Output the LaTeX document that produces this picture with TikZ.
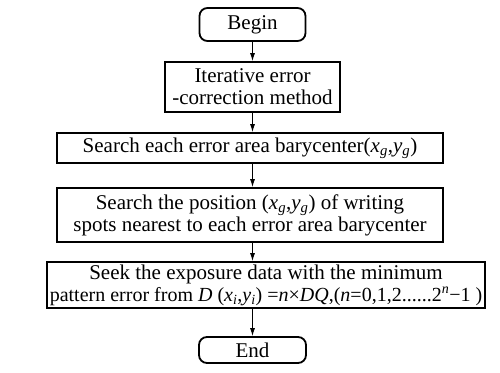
\documentclass[tikz,border=0pt]{standalone}
\usepackage{fontspec}
\setmainfont{Liberation Serif}
\usetikzlibrary{arrows.meta}
\newcommand{\iv}[1]{\textit{#1}}
\newcommand{\sub}[2]{\textit{#1}\textsubscript{\textit{#2}}}
\begin{document}
\begin{tikzpicture}[x=1pt,y=-1pt,
  box/.style={draw,line width=1.8pt,align=center,font=\fontsize{21}{22}\selectfont,inner sep=0pt},
  term/.style={box,rounded corners=8pt},
  arr/.style={-{Latex[length=8pt,width=5pt]},line width=0.9pt}]
\useasboundingbox (0,0) rectangle (500,372);
\node[term,minimum width=106pt,minimum height=33pt] (b) at (252.5,24.5) {Begin};
\node[box,minimum width=175pt,minimum height=50pt] (i) at (252.5,87) {Iterative error\\-correction method};
\node[box,minimum width=386pt,minimum height=30pt] (s1) at (250,148) {Search each error area barycenter(\sub{x}{g},\sub{y}{g})};
\node[box,minimum width=386pt,minimum height=54pt] (s2) at (250,215) {Search the position (\sub{x}{g},\sub{y}{g}) of writing\\spots nearest to each error area barycenter};
\node[box,minimum width=438pt,minimum height=46pt] (s3) at (266,285) {Seek the exposure data with the minimum\\{\fontsize{20}{22}\selectfont pattern error from \iv{D} (\sub{x}{i},\sub{y}{i}) =\iv{n}×\iv{DQ},(\iv{n}=0,1,2......2\textsuperscript{\iv{n}}−1 )}};
\node[term,minimum width=107pt,minimum height=26pt] (e) at (252.5,350) {End};
\draw[arr] (b.south) -- (i.north);
\draw[arr] (i.south) -- (i.south|-s1.north);
\draw[arr] (i.south|-s1.south) -- (i.south|-s2.north);
\draw[arr] (i.south|-s2.south) -- (i.south|-s3.north);
\draw[arr] (i.south|-s3.south) -- (e.north);
\end{tikzpicture}
\end{document}
